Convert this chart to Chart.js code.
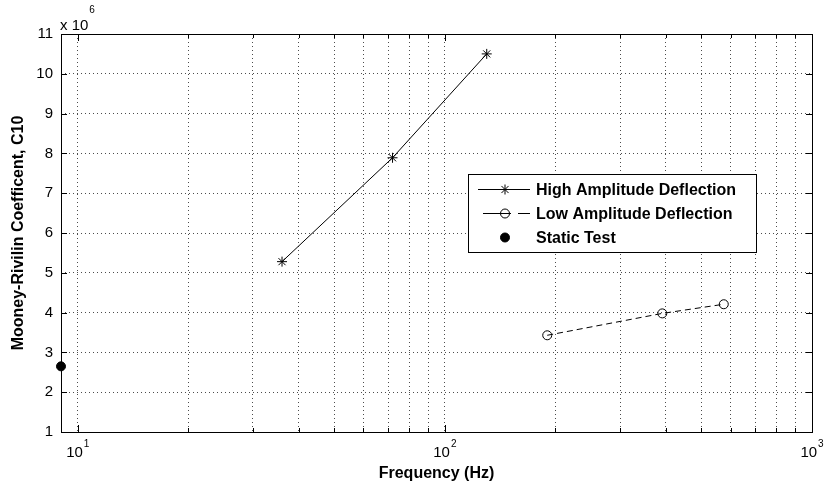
<!DOCTYPE html>
<html>
<head>
<meta charset="utf-8">
<script src="https://cdn.jsdelivr.net/npm/chart.js@4.4.0/dist/chart.umd.min.js"></script>
<style>
  html, body { margin: 0; padding: 0; background: #fff; }
  #wrap { width: 824px; height: 486px; }
</style>
</head>
<body>
<div id="wrap"><canvas id="mrChart" width="824" height="486"></canvas></div>
<script>
// values (frequency in Hz, C10 in Pa)
const highFreq = [36, 72, 130];
const highC10 = [5.28e6, 7.89e6, 10.5e6];
const lowFreq = [190, 391, 575];
const lowC10 = [3.43e6, 3.98e6, 4.21e6];
const staticFreq = [9];
const staticC10 = [2.65e6];

const seriesLabels = ['High Amplitude Deflection', 'Low Amplitude Deflection', 'Static Test'];
const xGridValues = [10, 20, 30, 40, 50, 60, 70, 80, 90, 100, 200, 300, 400, 500, 600, 700, 800, 900, 1000];
const xDecades = [10, 100, 1000];
const yTickValues = [1, 2, 3, 4, 5, 6, 7, 8, 9, 10, 11].map(v => v * 1e6);

const FONT = '"Liberation Sans", Arial, Helvetica, sans-serif';
const INK = '#000';

const toPts = (xs, ys) => xs.map((x, i) => ({ x: x, y: ys[i] }));

// matlab-ish box, inward ticks, tick labels with superscripts, legend
const matlabAxes = {
  id: 'matlabAxes',
  beforeDatasetsDraw(chart) {
    const { ctx, chartArea: a, scales: { x, y } } = chart;
    ctx.save();
    ctx.strokeStyle = INK;
    ctx.lineWidth = 1;
    ctx.beginPath();
    yTickValues.forEach(v => {
      const py = Math.round(y.getPixelForValue(v)) + 0.5;
      ctx.moveTo(a.left, py); ctx.lineTo(a.left + 6, py);
      ctx.moveTo(a.right, py); ctx.lineTo(a.right - 6, py);
    });
    xGridValues.forEach(v => {
      const px = Math.round(x.getPixelForValue(v)) + 0.5;
      const len = xDecades.includes(v) ? 7 : 4;
      ctx.moveTo(px, a.bottom); ctx.lineTo(px, a.bottom - len);
      ctx.moveTo(px, a.top); ctx.lineTo(px, a.top + len);
    });
    ctx.stroke();
    ctx.strokeRect(Math.round(a.left) + 0.5, Math.round(a.top) + 0.5,
      Math.round(a.right - a.left), Math.round(a.bottom - a.top));
    ctx.restore();
  },
  afterDraw(chart) {
    const { ctx, chartArea: a, scales: { x } } = chart;
    ctx.save();
    ctx.fillStyle = INK;
    ctx.textBaseline = 'alphabetic';
    ctx.textAlign = 'left';

    // decade labels 10^n
    xDecades.forEach(v => {
      const px = x.getPixelForValue(v);
      const ex = String(Math.round(Math.log10(v)));
      ctx.font = '15px ' + FONT;
      const wb = ctx.measureText('10').width;
      ctx.font = '10px ' + FONT;
      const we = ctx.measureText(ex).width;
      const start = px - (wb + we + 1) / 2;
      ctx.font = '15px ' + FONT;
      ctx.fillText('10', start, a.bottom + 25);
      ctx.font = '10px ' + FONT;
      ctx.fillText(ex, start + wb + 1, a.bottom + 15);
    });

    // y multiplier
    ctx.font = '15px ' + FONT;
    ctx.fillText('x 10', a.left - 1, a.top - 4);
    const wm = ctx.measureText('x 10').width;
    ctx.font = '10px ' + FONT;
    ctx.fillText('6', a.left + wm, a.top - 21);

    // legend
    const L = { x: 468, y: 174, w: 288, h: 78 };
    ctx.fillStyle = '#fff';
    ctx.fillRect(L.x, L.y, L.w, L.h);
    ctx.strokeStyle = INK;
    ctx.lineWidth = 1;
    ctx.strokeRect(L.x + 0.5, L.y + 0.5, L.w, L.h);

    const rows = [189.5, 213.5, 237.5];
    const mx = 505;
    ctx.beginPath();
    ctx.moveTo(478, rows[0]); ctx.lineTo(530, rows[0]);
    ctx.moveTo(483, rows[1]); ctx.lineTo(511, rows[1]);
    ctx.moveTo(518, rows[1]); ctx.lineTo(530, rows[1]);
    ctx.stroke();
    const dp = Chart.helpers.drawPoint;
    chart.data.datasets.forEach((ds, i) => {
      ctx.strokeStyle = ds.pointBorderColor;
      ctx.fillStyle = ds.pointBackgroundColor;
      ctx.lineWidth = 1;
      dp(ctx, { pointStyle: ds.pointStyle, radius: ds.pointRadius, rotation: 0, borderWidth: 1 }, mx, rows[i]);
    });

    ctx.fillStyle = INK;
    ctx.font = 'bold 16px ' + FONT;
    ctx.textBaseline = 'middle';
    chart.data.datasets.forEach((ds, i) => {
      ctx.fillText(ds.label, 536, rows[i] + 1);
    });
    ctx.restore();
  }
};

new Chart(document.getElementById('mrChart'), {
  type: 'line',
  data: {
    datasets: [
      {
        label: seriesLabels[0],
        data: toPts(highFreq, highC10),
        borderColor: INK,
        borderWidth: 1,
        pointStyle: 'star',
        pointRadius: 5,
        pointBorderColor: INK,
        pointBackgroundColor: INK,
        pointBorderWidth: 1,
        tension: 0,
        clip: false
      },
      {
        label: seriesLabels[1],
        data: toPts(lowFreq, lowC10),
        borderColor: INK,
        borderWidth: 1,
        borderDash: [6, 4],
        pointStyle: 'circle',
        pointRadius: 4.5,
        pointBorderColor: INK,
        pointBackgroundColor: 'rgba(0,0,0,0)',
        pointBorderWidth: 1,
        tension: 0,
        clip: false
      },
      {
        label: seriesLabels[2],
        data: toPts(staticFreq, staticC10),
        showLine: false,
        pointStyle: 'circle',
        pointRadius: 4.5,
        pointBorderColor: INK,
        pointBackgroundColor: INK,
        pointBorderWidth: 1,
        clip: false
      }
    ]
  },
  options: {
    responsive: false,
    animation: false,
    devicePixelRatio: 1,
    layout: { padding: { top: 34, right: 12, left: 0, bottom: 0 } },
    plugins: {
      legend: { display: false },
      tooltip: { enabled: false }
    },
    scales: {
      x: {
        type: 'logarithmic',
        min: 9,
        max: 1000,
        afterBuildTicks: s => { s.ticks = xGridValues.map(v => ({ value: v })); },
        afterFit: s => { s.height = 54; },
        ticks: { display: false },
        grid: { color: 'rgba(0,0,0,0.7)', lineWidth: 1, drawTicks: false },
        border: { display: false, dash: [1, 3] },
        title: {
          display: true,
          text: 'Frequency (Hz)',
          color: INK,
          font: { family: FONT, size: 16, weight: 'bold', lineHeight: 1.2 },
          padding: { top: 0, bottom: 3 }
        }
      },
      y: {
        min: 1e6,
        max: 11e6,
        afterBuildTicks: s => { s.ticks = yTickValues.map(v => ({ value: v })); },
        afterFit: s => { s.width = 61; },
        ticks: {
          color: INK,
          padding: 8,
          font: { family: FONT, size: 15 },
          callback: v => String(Math.round(v / 1e6))
        },
        grid: { color: 'rgba(0,0,0,0.7)', lineWidth: 1, drawTicks: false },
        border: { display: false, dash: [1, 3] },
        title: {
          display: true,
          text: 'Mooney-Rivilin Coefficent, C10',
          color: INK,
          font: { family: FONT, size: 16, weight: 'bold', lineHeight: 1.2 },
          padding: { top: 9, bottom: 0 }
        }
      }
    }
  },
  plugins: [matlabAxes]
});
</script>
</body>
</html>
